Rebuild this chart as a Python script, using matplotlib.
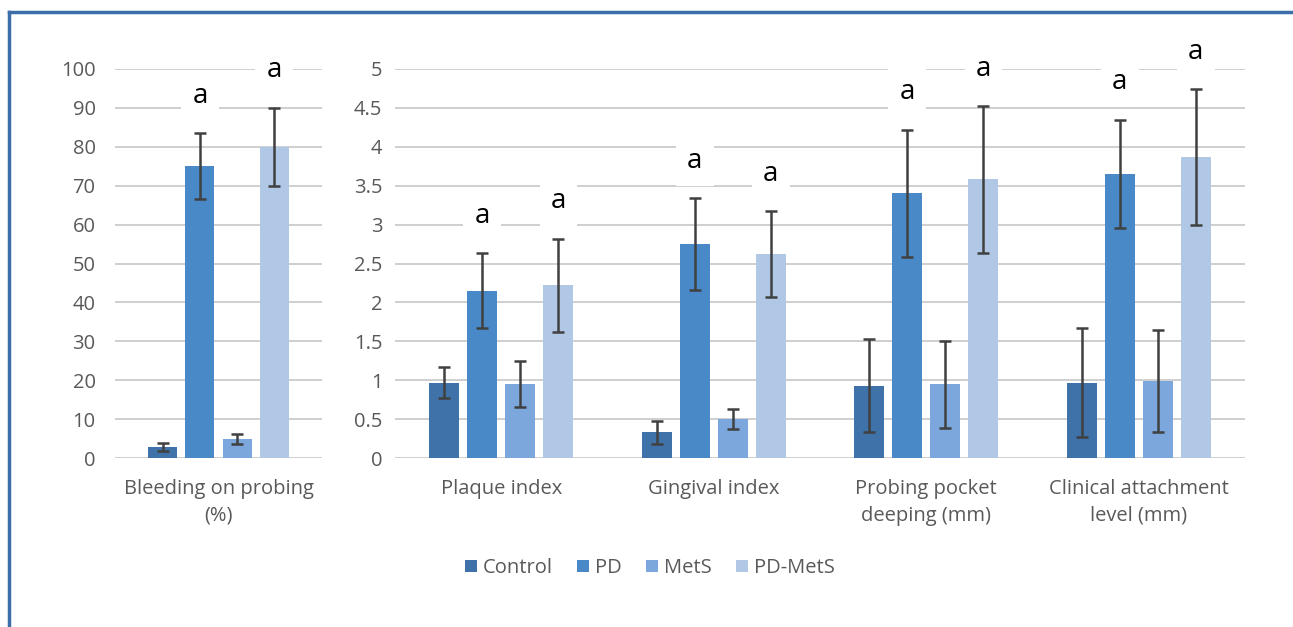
import matplotlib.pyplot as plt
import numpy as np
from matplotlib.lines import Line2D

plt.rcParams['font.family'] = ['Open Sans', 'DejaVu Sans']

groups = ['Control', 'PD', 'MetS', 'PD-MetS']
colors = ['#3F72A8', '#4A89C8', '#7BA7DC', '#B0C8E6']

# left panel: bleeding on probing (%)
bop_label = 'Bleeding on probing\n(%)'
bop_mean = [2.8, 75, 4.8, 80]
bop_err = [1.1, 8.5, 1.3, 10]
bop_sig = ['', 'a', '', 'a']

# right panel
cats = ['Plaque index', 'Gingival index', 'Probing pocket\ndeeping (mm)', 'Clinical attachment\nlevel (mm)']
means = {
    'Control': [0.97, 0.33, 0.93, 0.97],
    'PD': [2.15, 2.75, 3.40, 3.65],
    'MetS': [0.95, 0.50, 0.95, 0.99],
    'PD-MetS': [2.22, 2.62, 3.58, 3.87],
}
errs = {
    'Control': [0.20, 0.15, 0.60, 0.70],
    'PD': [0.48, 0.59, 0.82, 0.70],
    'MetS': [0.30, 0.13, 0.56, 0.66],
    'PD-MetS': [0.60, 0.55, 0.94, 0.87],
}
sig = {
    'Control': ['', '', '', ''],
    'PD': ['a', 'a', 'a', 'a'],
    'MetS': ['', '', '', ''],
    'PD-MetS': ['a', 'a', 'a', 'a'],
}

W, H = 1293, 627
fig = plt.figure(figsize=(W / 100, H / 100), dpi=100)

bot = 1 - 458 / H
top = 1 - 69 / H
ax1 = fig.add_axes([115 / W, bot, 207 / W, top - bot])
ax2 = fig.add_axes([395 / W, bot, 850 / W, top - bot])

grey = '#595959'
step = 0.179
bw = 0.14
offsets = (np.arange(4) - 1.5) * step


def style(ax, ticks, ypad):
    for s in ax.spines.values():
        s.set_visible(False)
    ax.set_yticks(ticks)
    ax.yaxis.grid(True, color='#CFCFCF', linewidth=1.4, zorder=0)
    ax.set_axisbelow(True)
    ax.tick_params(axis='both', length=0, labelsize=14.5, labelcolor=grey)
    ax.tick_params(axis='y', pad=ypad)
    ax.tick_params(axis='x', pad=15)
    for t in ax.get_xticklabels():
        t.set_linespacing(1.45)


def annotate(ax, x, y, txt):
    if txt:
        ax.annotate(txt, (x, y), xytext=(0, 27), textcoords='offset points',
                    ha='center', va='center', fontsize=20, color='black',
                    annotation_clip=False,
                    bbox=dict(boxstyle='square,pad=0.4', fc='white', ec='none'),
                    zorder=5)


# left panel
scale = 207 / 212.5
for i, g in enumerate(groups):
    x = offsets[i] * scale
    ax1.bar(x, bop_mean[i], width=bw * scale, color=colors[i], zorder=2)
    ax1.errorbar(x, bop_mean[i], yerr=bop_err[i], fmt='none', ecolor='#404040',
                 elinewidth=1.8, capsize=4.5, capthick=1.8, zorder=3)
    annotate(ax1, x, bop_mean[i] + bop_err[i], bop_sig[i])
ax1.set_xlim(-0.5 * scale, 0.5 * scale)
ax1.set_ylim(0, 100)
ax1.set_xticks([0])
ax1.set_xticklabels([bop_label])
style(ax1, np.arange(0, 101, 10), 14)

# right panel
xs = np.arange(len(cats))
for i, g in enumerate(groups):
    x = xs + offsets[i]
    ax2.bar(x, means[g], width=bw, color=colors[i], zorder=2, label=g)
    ax2.errorbar(x, means[g], yerr=errs[g], fmt='none', ecolor='#404040',
                 elinewidth=1.8, capsize=4.5, capthick=1.8, zorder=3)
    for k in range(len(cats)):
        annotate(ax2, x[k], means[g][k] + errs[g][k], sig[g][k])
ax2.set_xlim(-0.5, 3.5)
ax2.set_ylim(0, 5)
ax2.set_xticks(xs)
ax2.set_xticklabels(cats)
style(ax2, np.arange(0, 5.01, 0.5), 9)
ax2.set_yticklabels(['0', '0.5', '1', '1.5', '2', '2.5', '3', '3.5', '4', '4.5', '5'])

handles, labels = ax2.get_legend_handles_labels()
fig.legend(handles, labels, loc='center', bbox_to_anchor=(650 / W, 1 - 568 / H),
           ncol=4, frameon=False, fontsize=14.5, labelcolor=grey,
           handlelength=0.6, handleheight=0.6, handletextpad=0.3, columnspacing=1.2)

# blue frame (top and left edges visible)
fig.add_artist(Line2D([9 / W, 1], [1 - 12 / H, 1 - 12 / H], color='#3C6EAA', linewidth=2.5))
fig.add_artist(Line2D([9 / W, 9 / W], [0, 1 - 12 / H], color='#3C6EAA', linewidth=2.5))

fig.savefig('out.png', dpi=100)
